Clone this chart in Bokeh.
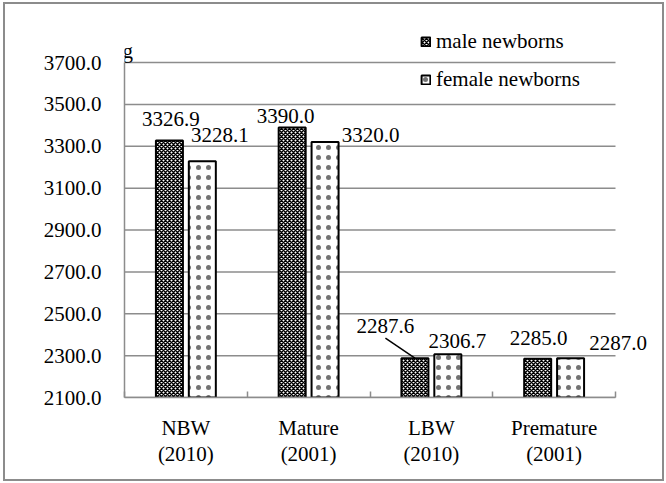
from bokeh.plotting import figure
from bokeh.models import (ColumnDataSource, FixedTicker, NumeralTickFormatter,
                          LabelSet, Label, Legend, LegendItem, Range1d)
from bokeh.embed import file_html
from bokeh.resources import INLINE
from bokeh.core.properties import value

# ---- data ----
categories = ["NBW\n(2010)", "Mature\n(2001)", "LBW\n(2010)", "Premature\n(2001)"]
male = [3326.9, 3390.0, 2287.6, 2285.0]
female = [3228.1, 3320.0, 2306.7, 2287.0]
series_names = ["male newborns", "female newborns"]
y_ticks = [2100, 2300, 2500, 2700, 2900, 3100, 3300, 3500, 3700]
y_min, y_max = 2100, 3700
unit_label = "g"

# label nudges in pixels (relative to the top centre of each bar)
male_dx = [1.5, -6.5, -29.5, 1.0]
male_dy = [15, 4, 25, 14]
female_dx = [17.5, 45.5, 9.5, 47.5]
female_dy = [19, 0, 6, 8]
male_leader = [False, False, True, False]

FONT = "Liberation Serif"
GRID = "#8c8c8c"

# ---- layout constants (pixels) ----
W, H = 661, 479
B_LEFT, B_RIGHT, B_TOP, B_BOTTOM = 121, 4, 26, 84
frame_w = W - B_LEFT - B_RIGHT
frame_h = H - B_TOP - B_BOTTOM
cat_px = 122.75                 # pixels per category
axis_px = 335.0                 # pixels spanned by y_min..y_max

n = len(categories)
px_x = cat_px
px_y = axis_px / (y_max - y_min)
x_end = frame_w / px_x
y_end = y_min + frame_h / px_y
off = 0.134
bw = 0.22

centers = [i + 0.5 for i in range(n)]
xm = [c - off for c in centers]
xf = [c + off for c in centers]

p = figure(width=W, height=H, output_backend="svg", toolbar_location=None,
           x_range=Range1d(0, x_end), y_range=Range1d(y_min, y_end),
           min_border_left=B_LEFT, min_border_right=B_RIGHT,
           min_border_top=B_TOP, min_border_bottom=B_BOTTOM,
           styles={"margin-left": "3px", "margin-top": "2px",
                   "box-shadow": "inset 0 0 0 2px #8c8c8c"})
p.outline_line_color = None
p.background_fill_color = "white"
p.border_fill_alpha = 0

# horizontal grid lines, limited to the category span
p.segment(x0=[0] * len(y_ticks), x1=[n] * len(y_ticks), y0=y_ticks, y1=y_ticks,
          line_color=GRID, line_width=1.5)

src_m = ColumnDataSource(dict(x=xm, top=male,
                              lbl=["%.1f" % v for v in male],
                              dx=male_dx, dy=male_dy))
src_f = ColumnDataSource(dict(x=xf, top=female,
                              lbl=["%.1f" % v for v in female],
                              dx=female_dx, dy=female_dy))

rm = p.vbar(x="x", top="top", bottom=y_min, width=bw, source=src_m,
            fill_color="white", line_color="black", line_width=2,
            hatch_pattern="diagonal_cross", hatch_color="black",
            hatch_scale=4, hatch_weight=1.5)
rf = p.vbar(x="x", top="top", bottom=y_min, width=bw, source=src_f,
            fill_color="white", line_color="black", line_width=2,
            hatch_pattern="dot", hatch_color="black", hatch_alpha=0.55,
            hatch_scale=10, hatch_weight=1)

for src in (src_m, src_f):
    p.add_layout(LabelSet(x="x", y="top", text="lbl", x_offset="dx",
                          y_offset="dy", source=src, text_align="center",
                          text_baseline="alphabetic", text_font=value(FONT),
                          text_font_size="21px", text_color="black"))

# leader line from label to bar
lx0, ly0, lx1, ly1 = [], [], [], []
for i in range(n):
    if male_leader[i]:
        lx0.append(xm[i] + male_dx[i] / px_x)
        ly0.append(male[i] + (male_dy[i] - 5) / px_y)
        lx1.append(xm[i])
        ly1.append(male[i])
p.segment(x0=lx0, y0=ly0, x1=lx1, y1=ly1, line_color="black", line_width=1.5)

# axes
p.yaxis.bounds = (y_min, y_max)
p.yaxis.ticker = FixedTicker(ticks=y_ticks)
p.yaxis.formatter = NumeralTickFormatter(format="0.0")
p.yaxis.axis_line_color = GRID
p.yaxis.axis_line_width = 1.5
p.yaxis.major_tick_line_color = None
p.yaxis.minor_tick_line_color = None
p.yaxis.major_label_standoff = 17
p.yaxis.major_label_text_font = FONT
p.yaxis.major_label_text_font_size = "21px"
p.yaxis.major_label_text_color = "black"

p.xaxis.bounds = (0, n)
p.xaxis.ticker = FixedTicker(ticks=centers, minor_ticks=list(range(n + 1)))
p.xaxis.major_label_overrides = {c: lab for c, lab in zip(centers, categories)}
p.xaxis.axis_line_color = GRID
p.xaxis.axis_line_width = 1.5
p.xaxis.major_tick_line_color = None
p.xaxis.minor_tick_line_color = GRID
p.xaxis.minor_tick_line_width = 1.5
p.xaxis.minor_tick_in = 6
p.xaxis.minor_tick_out = 0
p.xaxis.major_label_standoff = 12
p.xaxis.major_label_text_font = FONT
p.xaxis.major_label_text_font_size = "21px"
p.xaxis.major_label_text_color = "black"
p.xaxis.major_label_text_line_height = 1.1

p.xgrid.grid_line_color = None
p.ygrid.grid_line_color = None

# unit label
p.add_layout(Label(x=0, y=y_max, text=unit_label, x_offset=-2, y_offset=12,
                   text_font=FONT, text_font_size="21px", text_color="black",
                   text_baseline="alphabetic"))

legend = Legend(items=[LegendItem(label=series_names[0], renderers=[rm]),
                       LegendItem(label=series_names[1], renderers=[rf])],
                location=(296, 305), orientation="vertical",
                glyph_width=11, glyph_height=11, label_standoff=5,
                label_height=22, spacing=13, padding=0, margin=0,
                label_text_font=FONT, label_text_font_size="21px",
                label_text_color="black",
                background_fill_alpha=0, border_line_color=None)
p.add_layout(legend, "center")

open("out.html", "w").write(file_html(p, INLINE))
